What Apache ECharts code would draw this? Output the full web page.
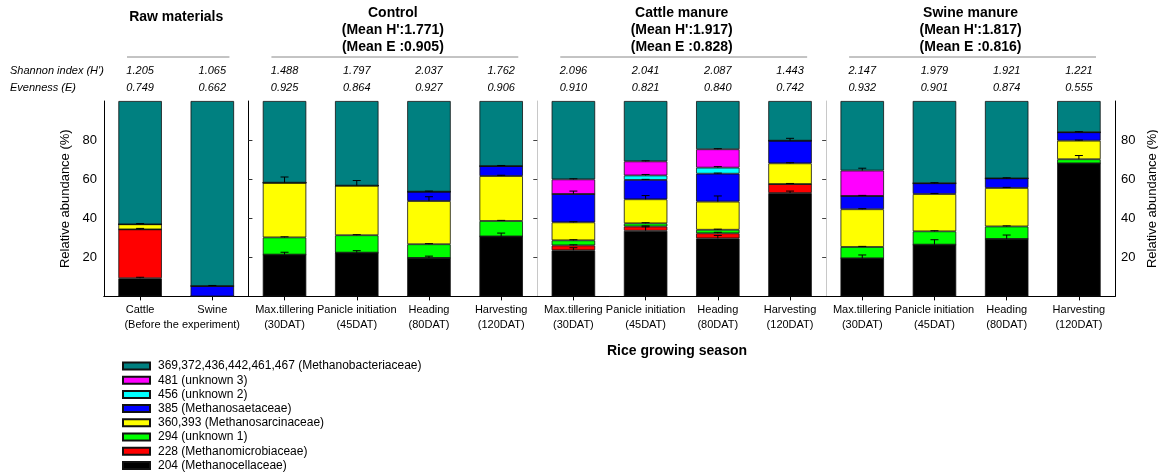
<!DOCTYPE html>
<html>
<head>
<meta charset="utf-8">
<script src="https://cdn.jsdelivr.net/npm/echarts@6/dist/echarts.min.js"></script>
<style>
  html, body { margin: 0; padding: 0; background: #fff; }
  #chart { width: 1158px; height: 473px; }
</style>
</head>
<body>
<div id="chart"></div>
<script>
// Sampling stages (x categories)
const categories = [
  'Cattle', 'Swine',
  'Max.tillering\n(30DAT)', 'Panicle initiation\n(45DAT)', 'Heading\n(80DAT)', 'Harvesting\n(120DAT)',
  'Max.tillering\n(30DAT)', 'Panicle initiation\n(45DAT)', 'Heading\n(80DAT)', 'Harvesting\n(120DAT)',
  'Max.tillering\n(30DAT)', 'Panicle initiation\n(45DAT)', 'Heading\n(80DAT)', 'Harvesting\n(120DAT)'
];
const rawNote = '(Before the experiment)';

// Diversity indices per sample
const shannon = ['1.205', '1.065', '1.488', '1.797', '2.037', '1.762', '2.096', '2.041', '2.087', '1.443', '2.147', '1.979', '1.921', '1.221'];
const evenness = ['0.749', '0.662', '0.925', '0.864', '0.927', '0.906', '0.910', '0.821', '0.840', '0.742', '0.932', '0.901', '0.874', '0.555'];

// Panel headings
const panelTitles = [
  ['Raw materials'],
  ['Control', "(Mean H':1.771)", '(Mean E :0.905)'],
  ['Cattle manure', "(Mean H':1.917)", '(Mean E :0.828)'],
  ['Swine manure', "(Mean H':1.817)", '(Mean E :0.816)']
];
const panelSizes = [2, 4, 4, 4];

// Relative abundance (%) per T-RF group, stacked bottom to top
const t204  = [9.3, 0, 21.4, 22.4, 19.7, 30.7, 23.6, 33.6, 29.7, 52.9, 19.5, 26.5, 29.4, 68.1];
const t228  = [25.0, 0, 0, 0, 0, 0, 2.5, 2.2, 2.6, 4.6, 0, 0, 0, 0];
const t294  = [0, 0, 8.8, 8.9, 7.0, 7.9, 2.6, 1.6, 1.8, 0, 5.8, 6.8, 6.4, 2.1];
const t360  = [2.6, 0, 28.0, 25.4, 22.1, 23.0, 9.2, 12.3, 14.4, 10.6, 19.3, 19.1, 19.7, 9.5];
const t385  = [0, 5.3, 0, 0, 4.8, 5.1, 14.5, 9.9, 14.3, 11.6, 6.8, 5.5, 4.9, 4.3];
const t456  = [0, 0, 0, 0, 0, 0, 0, 2.3, 3.1, 0, 0, 0, 0, 0];
const t481  = [0, 0, 0, 0, 0, 0, 7.5, 7.2, 9.4, 0, 13.0, 0, 0, 0];
const tBact = [63.1, 94.7, 41.8, 43.3, 46.4, 33.3, 40.1, 30.9, 24.7, 20.3, 35.6, 42.1, 39.6, 16.0];

// Upper error (%) on each segment
const e204 = [0.5, 0, 1.2, 1.0, 0.9, 1.7, 1.3, 2.0, 1.5, 1.0, 1.7, 2.5, 2.0, 0];
const e228 = [0.5, 0, 0, 0, 0, 0, 0.3, 0.3, 0.5, 0.3, 0, 0, 0, 0];
const e294 = [0, 0, 0.3, 0.3, 0.3, 0.3, 0.3, 0.3, 0.3, 0, 0.3, 0.3, 0.3, 1.9];
const e360 = [0.4, 0, 2.9, 2.6, 2.2, 0.4, 0.3, 1.9, 2.9, 0.3, 0.3, 0.3, 0.3, 0.3];
const e385 = [0, 0.3, 0, 0, 0.3, 0.3, 1.5, 0.3, 0.3, 1.2, 0.3, 0.3, 0.3, 0.3];
const e456 = [0, 0, 0, 0, 0, 0, 0, 0.5, 0.5, 0, 0, 0, 0, 0];
const e481 = [0, 0, 0, 0, 0, 0, 0.3, 0.3, 0.3, 0, 1.2, 0, 0, 0];

const groupNames = [
  '204 (Methanocellaceae)',
  '228 (Methanomicrobiaceae)',
  '294 (unknown 1)',
  '360,393 (Methanosarcinaceae)',
  '385 (Methanosaetaceae)',
  '456 (unknown 2)',
  '481 (unknown 3)',
  '369,372,436,442,461,467 (Methanobacteriaceae)'
];
const groupColors = ['#000000', '#ff0000', '#00ff00', '#ffff00', '#0000ff', '#00ffff', '#ff00ff', '#008080'];
const groupValues = [t204, t228, t294, t360, t385, t456, t481, tBact];
const groupErrors = [e204, e228, e294, e360, e385, e456, e481, null];

// Plot frame
const G = { left: 104, top: 101, width: 1011, height: 195.4 };
const band = G.width / categories.length;
const FONT = 'Arial, "Liberation Sans", sans-serif';

// Error bar points: [category, top of stacked segment, error]
const errData = [];
const cum = categories.map(() => 0);
groupValues.forEach((vals, k) => {
  vals.forEach((v, i) => {
    cum[i] += v;
    const errs = groupErrors[k];
    if (errs && errs[i] > 0) errData.push([i, +cum[i].toFixed(2), errs[i]]);
  });
});

const barSeries = groupValues.map((vals, k) => ({
  name: groupNames[k],
  type: 'bar',
  stack: 'abundance',
  barWidth: 43.5,
  data: vals,
  itemStyle: { color: groupColors[k], borderColor: '#111', borderWidth: 0.8 },
  emphasis: { disabled: true },
  animation: false
}));

const errorSeries = {
  type: 'custom',
  z: 10,
  silent: true,
  animation: false,
  data: errData,
  renderItem: function (params, api) {
    const p0 = api.coord([api.value(0), api.value(1)]);
    const p1 = api.coord([api.value(0), api.value(1) + api.value(2)]);
    const cap = 4;
    const st = { stroke: '#000', lineWidth: 1 };
    return {
      type: 'group',
      children: [
        { type: 'line', shape: { x1: p0[0], y1: p0[1], x2: p1[0], y2: p1[1] }, style: st },
        { type: 'line', shape: { x1: p1[0] - cap, y1: p1[1], x2: p1[0] + cap, y2: p1[1] }, style: st }
      ]
    };
  }
};

// Panel headings, underlines and row captions
const graphics = [];
let startIdx = 0;
panelTitles.forEach((lines, p) => {
  const x0 = G.left + startIdx * band;
  const x1 = x0 + panelSizes[p] * band;
  const cx = (x0 + x1) / 2;
  const firstY = lines.length === 1 ? 17 : 13;
  lines.forEach((t, j) => {
    graphics.push({
      type: 'text', x: cx, y: firstY + j * 17,
      style: { text: t, font: 'bold 14px ' + FONT, fill: '#000', textAlign: 'center', textVerticalAlign: 'middle' }
    });
  });
  graphics.push({
    type: 'line',
    shape: { x1: x0 + 23, y1: 57, x2: x1 - 19, y2: 57 },
    style: { stroke: '#888', lineWidth: 1 }
  });
  startIdx += panelSizes[p];
});
graphics.push(
  { type: 'text', x: 10, y: 71, style: { text: "Shannon index (H')", font: 'italic 11px ' + FONT, fill: '#000', textAlign: 'left', textVerticalAlign: 'middle' } },
  { type: 'text', x: 10, y: 88, style: { text: 'Evenness (E)', font: 'italic 11px ' + FONT, fill: '#000', textAlign: 'left', textVerticalAlign: 'middle' } },
  { type: 'text', x: G.left + band + 6, y: 325, style: { text: rawNote, font: '11px ' + FONT, fill: '#000', textAlign: 'center', textVerticalAlign: 'middle' } },
  { type: 'text', x: 677, y: 351, style: { text: 'Rice growing season', font: 'bold 14px ' + FONT, fill: '#000', textAlign: 'center', textVerticalAlign: 'middle' } }
);

const valueAxisBase = { type: 'value', min: 0, max: 100, interval: 20, splitLine: { show: false } };

const option = {
  backgroundColor: '#fff',
  animation: false,
  textStyle: { fontFamily: FONT },
  grid: {
    left: G.left, top: G.top, width: G.width, height: G.height,
    containLabel: false, outerBoundsMode: 'none'
  },
  legend: {
    orient: 'vertical',
    left: 122,
    top: 359,
    padding: 0,
    icon: 'rect',
    itemWidth: 27,
    itemHeight: 7,
    itemGap: 0.2,
    selectedMode: false,
    data: groupNames.slice().reverse(),
    textStyle: { fontSize: 12, color: '#000', lineHeight: 14, fontFamily: FONT, padding: [0, 0, 0, 3] }
  },
  xAxis: [
    {
      type: 'category',
      data: categories,
      position: 'bottom',
      axisLine: { lineStyle: { color: '#000', width: 1 } },
      axisTick: { show: true, alignWithLabel: true, length: 4, lineStyle: { color: '#000' } },
      axisLabel: { interval: 0, fontSize: 11, lineHeight: 15, color: '#000', margin: 6, fontFamily: FONT }
    },
    {
      type: 'category',
      data: categories,
      position: 'top',
      axisLine: { lineStyle: { color: '#000', width: 1 } },
      axisTick: { show: false },
      axisLabel: {
        interval: 0, margin: 5, color: '#000',
        formatter: (v, i) => '{v|' + shannon[i] + '}\n{v|' + evenness[i] + '}',
        rich: { v: { fontSize: 11, fontStyle: 'italic', lineHeight: 17, fontFamily: FONT, color: '#000' } }
      }
    }
  ],
  yAxis: [
    Object.assign({}, valueAxisBase, {
      position: 'left',
      name: 'Relative abundance (%)',
      nameLocation: 'middle',
      nameRotate: 90,
      nameGap: 26,
      nameTextStyle: { fontSize: 13, color: '#000', fontFamily: FONT },
      axisLine: { show: true, lineStyle: { color: '#000', width: 1 } },
      axisTick: { show: false },
      axisLabel: { fontSize: 13, color: '#000', margin: 7, customValues: [20, 40, 60, 80] }
    }),
    Object.assign({}, valueAxisBase, {
      position: 'right',
      name: 'Relative abundance (%)',
      nameLocation: 'middle',
      nameRotate: 90,
      nameGap: 30,
      nameTextStyle: { fontSize: 13, color: '#000', fontFamily: FONT },
      axisLine: { show: true, lineStyle: { color: '#000', width: 1 } },
      axisTick: { show: false },
      axisLabel: { fontSize: 13, color: '#000', margin: 6, customValues: [20, 40, 60, 80] }
    }),
    // divider between raw materials and the treatments
    Object.assign({}, valueAxisBase, {
      position: 'left',
      offset: -band * 2,
      axisLine: { show: true, lineStyle: { color: '#000', width: 1 } },
      axisTick: { show: true, inside: true, length: 4, lineStyle: { color: '#333' }, customValues: [20, 40, 60, 80] },
      axisLabel: { show: false }
    }),
    // divider between control and cattle manure
    Object.assign({}, valueAxisBase, {
      position: 'right',
      offset: -band * 8,
      axisLine: { show: true, lineStyle: { color: '#c8c8c8', width: 1 } },
      axisTick: { show: true, inside: true, length: 4, lineStyle: { color: '#444' }, customValues: [20, 40, 60, 80] },
      axisLabel: { show: false }
    }),
    // divider between cattle manure and swine manure
    Object.assign({}, valueAxisBase, {
      position: 'right',
      offset: -band * 4,
      axisLine: { show: true, lineStyle: { color: '#c8c8c8', width: 1 } },
      axisTick: { show: true, inside: true, length: 4, lineStyle: { color: '#444' }, customValues: [20, 40, 60, 80] },
      axisLabel: { show: false }
    })
  ],
  series: barSeries.concat([errorSeries]),
  graphic: graphics
};

const chart = echarts.init(document.getElementById('chart'), null, { renderer: 'canvas' });
chart.setOption(option);
</script>
</body>
</html>
